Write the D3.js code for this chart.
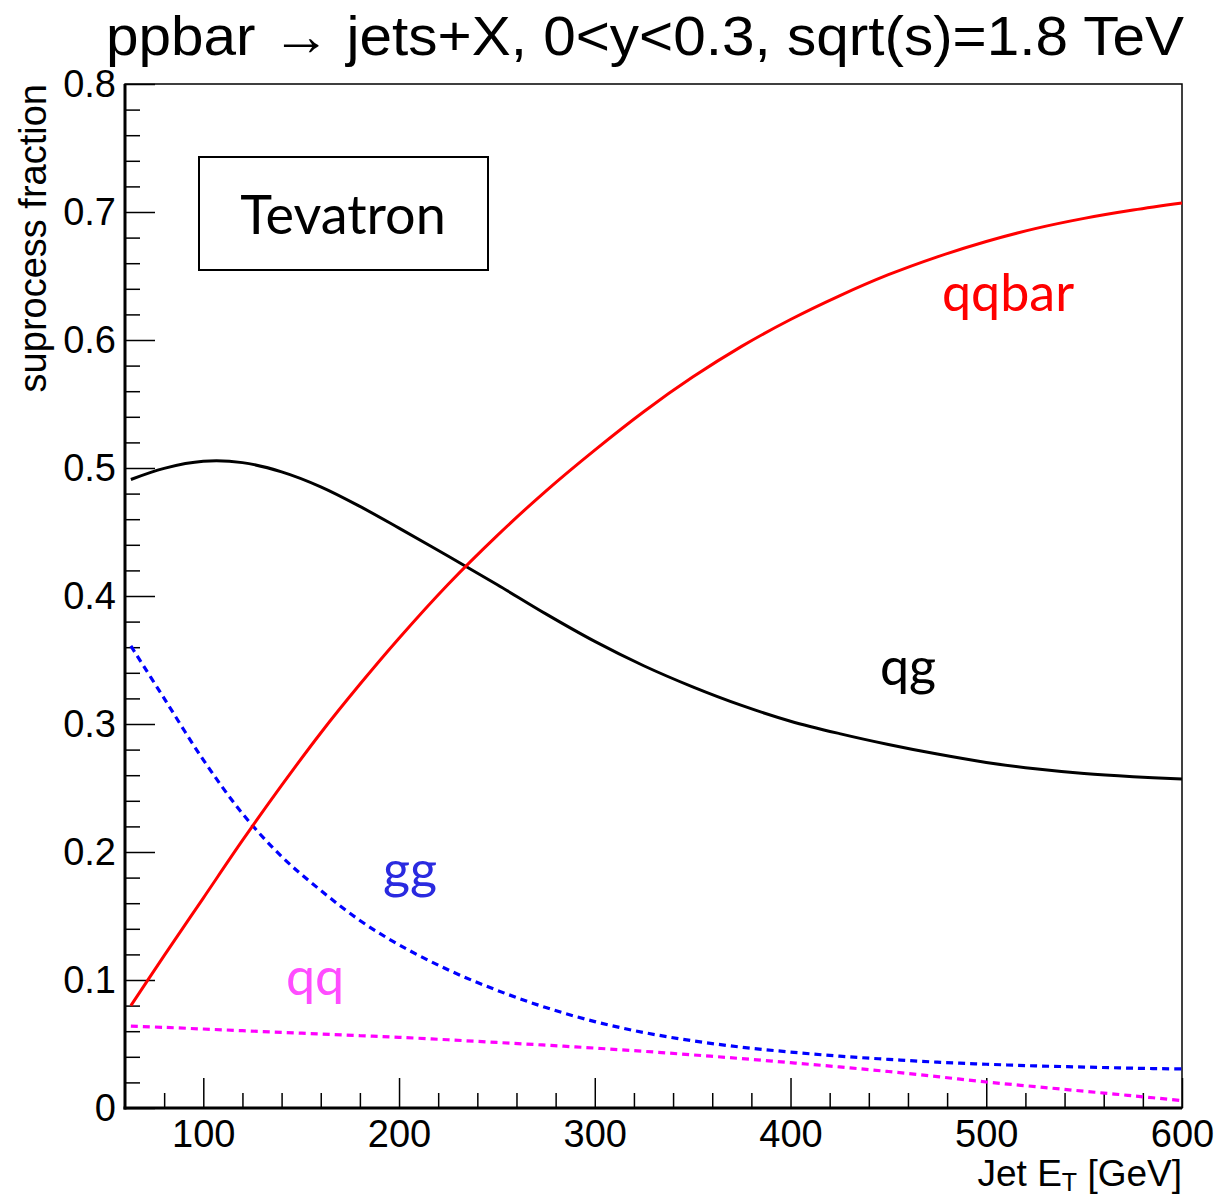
<!DOCTYPE html>
<html>
<head>
<meta charset="utf-8">
<script src="https://cdn.jsdelivr.net/npm/d3@7"></script>
<style>
  html, body { margin: 0; padding: 0; background: #fff; }
  svg { display: block; }
</style>
</head>
<body>
<svg id="chart" width="1220" height="1196"></svg>
<script>
// ---- Data ----
const jetET = [63, 80, 100, 120, 140, 160, 180, 200, 225, 250, 275, 300, 325, 350, 375, 400, 425, 450, 475, 500, 525, 550, 575, 600];
const qqbarFrac = [0.080, 0.119, 0.164, 0.209, 0.252, 0.293, 0.331, 0.367, 0.409, 0.447, 0.482, 0.514, 0.544, 0.571, 0.595, 0.616, 0.6345, 0.651, 0.665, 0.677, 0.687, 0.695, 0.7015, 0.707];
const qgFrac    = [0.4910, 0.4997, 0.5052, 0.5042, 0.4970, 0.4853, 0.4700, 0.4530, 0.4312, 0.4090, 0.3860, 0.3645, 0.3455, 0.3290, 0.3145, 0.3022, 0.2925, 0.2840, 0.2765, 0.2700, 0.2650, 0.2613, 0.2588, 0.2570];
const ggFrac    = [0.361, 0.320, 0.272, 0.230, 0.1965, 0.170, 0.1465, 0.1275, 0.108, 0.092, 0.0785, 0.0675, 0.059, 0.0525, 0.0475, 0.0437, 0.0405, 0.038, 0.0358, 0.0342, 0.0329, 0.032, 0.0311, 0.0305];
const qqFrac    = [0.0640, 0.0630, 0.0617, 0.0604, 0.0591, 0.0578, 0.0565, 0.0552, 0.0533, 0.0512, 0.0491, 0.0468, 0.0443, 0.0415, 0.0386, 0.0354, 0.0321, 0.0285, 0.0245, 0.0203, 0.0167, 0.0131, 0.0095, 0.0058];

const xMajorTicks = [100, 200, 300, 400, 500, 600];
const xMinorTicks = [80, 120, 140, 160, 180, 220, 240, 260, 280, 320, 340, 360, 380, 420, 440, 460, 480, 520, 540, 560, 580];
const yMajorTicks = [0, 0.1, 0.2, 0.3, 0.4, 0.5, 0.6, 0.7, 0.8];
const yMinorTicks = [0.02, 0.04, 0.06, 0.08, 0.12, 0.14, 0.16, 0.18, 0.22, 0.24, 0.26, 0.28, 0.32, 0.34, 0.36, 0.38, 0.42, 0.44, 0.46, 0.48, 0.52, 0.54, 0.56, 0.58, 0.62, 0.64, 0.66, 0.68, 0.72, 0.74, 0.76, 0.78];

const seriesNames = ["qqbar", "qg", "gg", "qq"];
const titleText = "ppbar \u2192 jets+X, 0<y<0.3, sqrt(s)=1.8 TeV";

// ---- Layout ----
const L = 125, R = 1182, T = 84, B = 1108;
const x = d3.scaleLinear().domain([60, 600]).range([L, R]);
const y = d3.scaleLinear().domain([0, 0.8]).range([B, T]);

const svg = d3.select("#chart");
const sansFont = "'Liberation Sans', Arial, Helvetica, sans-serif";
const labelFont = "Lato, 'Open Sans', sans-serif";

// Title
svg.append("text")
  .attr("x", 106).attr("y", 55)
  .attr("font-family", sansFont).attr("font-size", 56)
  .attr("textLength", 1078).attr("lengthAdjust", "spacingAndGlyphs")
  .text(titleText);

// Frame
svg.append("rect")
  .attr("x", L).attr("y", T).attr("width", R - L).attr("height", B - T)
  .attr("fill", "none").attr("stroke", "#000").attr("stroke-width", 1.5);

// X axis major
const gx = svg.append("g").attr("transform", `translate(0,${B})`)
  .call(d3.axisBottom(x).tickValues(xMajorTicks).tickSize(-30).tickPadding(12).tickFormat(d3.format("d")));
gx.select(".domain").remove();
gx.selectAll("line").attr("stroke", "#000").attr("stroke-width", 1.5);
gx.selectAll("text").attr("font-family", sansFont).attr("font-size", 38).attr("fill", "#000");

// X axis minor
const gxm = svg.append("g").attr("transform", `translate(0,${B})`)
  .call(d3.axisBottom(x).tickValues(xMinorTicks).tickSize(-15).tickFormat(""));
gxm.select(".domain").remove();
gxm.selectAll("line").attr("stroke", "#000").attr("stroke-width", 1.5);

// Y axis major
const gy = svg.append("g").attr("transform", `translate(${L},0)`)
  .call(d3.axisLeft(y).tickValues(yMajorTicks).tickSize(-30).tickPadding(9)
    .tickFormat(d => d === 0 ? "0" : d3.format(".1f")(d)));
gy.select(".domain").remove();
gy.selectAll("line").attr("stroke", "#000").attr("stroke-width", 1.5);
gy.selectAll("text").attr("font-family", sansFont).attr("font-size", 38).attr("fill", "#000");

// Y axis minor
const gym = svg.append("g").attr("transform", `translate(${L},0)`)
  .call(d3.axisLeft(y).tickValues(yMinorTicks).tickSize(-15).tickFormat(""));
gym.select(".domain").remove();
gym.selectAll("line").attr("stroke", "#000").attr("stroke-width", 1.5);

// Thicker left and bottom axes lines
svg.append("line").attr("x1", L).attr("x2", L).attr("y1", T).attr("y2", B + 1.5)
  .attr("stroke", "#000").attr("stroke-width", 3);
svg.append("line").attr("x1", L - 1.5).attr("x2", R).attr("y1", B).attr("y2", B)
  .attr("stroke", "#000").attr("stroke-width", 3);

// Axis titles
svg.append("text")
  .attr("transform", `translate(46,${T}) rotate(-90)`)
  .attr("text-anchor", "end")
  .attr("font-family", sansFont).attr("font-size", 38)
  .text("suprocess fraction");

const xt = svg.append("text")
  .attr("x", R).attr("y", 1186).attr("text-anchor", "end")
  .attr("font-family", sansFont).attr("font-size", 37);
xt.append("tspan").text("Jet E");
xt.append("tspan").attr("font-size", 25).attr("dy", 5).text("T");
xt.append("tspan").attr("dy", -5).text(" [GeV]");

// Curves
const line = d3.line().x(d => x(d[0])).y(d => y(d[1])).curve(d3.curveCatmullRom.alpha(0.5));
const mk = arr => jetET.map((e, i) => [e, arr[i]]);

svg.append("path").datum(mk(qqFrac)).attr("d", line)
  .attr("fill", "none").attr("stroke", "#ff00ff").attr("stroke-width", 3.2).attr("stroke-dasharray", "7,5");
svg.append("path").datum(mk(ggFrac)).attr("d", line)
  .attr("fill", "none").attr("stroke", "#0000ff").attr("stroke-width", 3.2).attr("stroke-dasharray", "7,5");
svg.append("path").datum(mk(qgFrac)).attr("d", line)
  .attr("fill", "none").attr("stroke", "#000").attr("stroke-width", 3);
svg.append("path").datum(mk(qqbarFrac)).attr("d", line)
  .attr("fill", "none").attr("stroke", "#ff0000").attr("stroke-width", 3);

// Tevatron box
svg.append("rect").attr("x", 199).attr("y", 157).attr("width", 289).attr("height", 113)
  .attr("fill", "none").attr("stroke", "#000").attr("stroke-width", 2);
svg.append("text").attr("x", 343).attr("y", 234).attr("text-anchor", "middle")
  .attr("font-family", labelFont).attr("font-size", 54).text("Tevatron");

// Curve labels
svg.append("text").attr("x", 1008).attr("y", 311).attr("text-anchor", "middle")
  .attr("font-family", labelFont).attr("font-size", 52).attr("fill", "#ff0000").text(seriesNames[0]);
svg.append("text").attr("x", 908).attr("y", 685).attr("text-anchor", "middle")
  .attr("font-family", labelFont).attr("font-size", 52).attr("fill", "#000").text(seriesNames[1]);
svg.append("text").attr("x", 410).attr("y", 888).attr("text-anchor", "middle")
  .attr("font-family", labelFont).attr("font-size", 52).attr("fill", "#2a2ae0").text(seriesNames[2]);
svg.append("text").attr("x", 315).attr("y", 995).attr("text-anchor", "middle")
  .attr("font-family", labelFont).attr("font-size", 52).attr("fill", "#ff4dff").text(seriesNames[3]);
</script>
</body>
</html>
